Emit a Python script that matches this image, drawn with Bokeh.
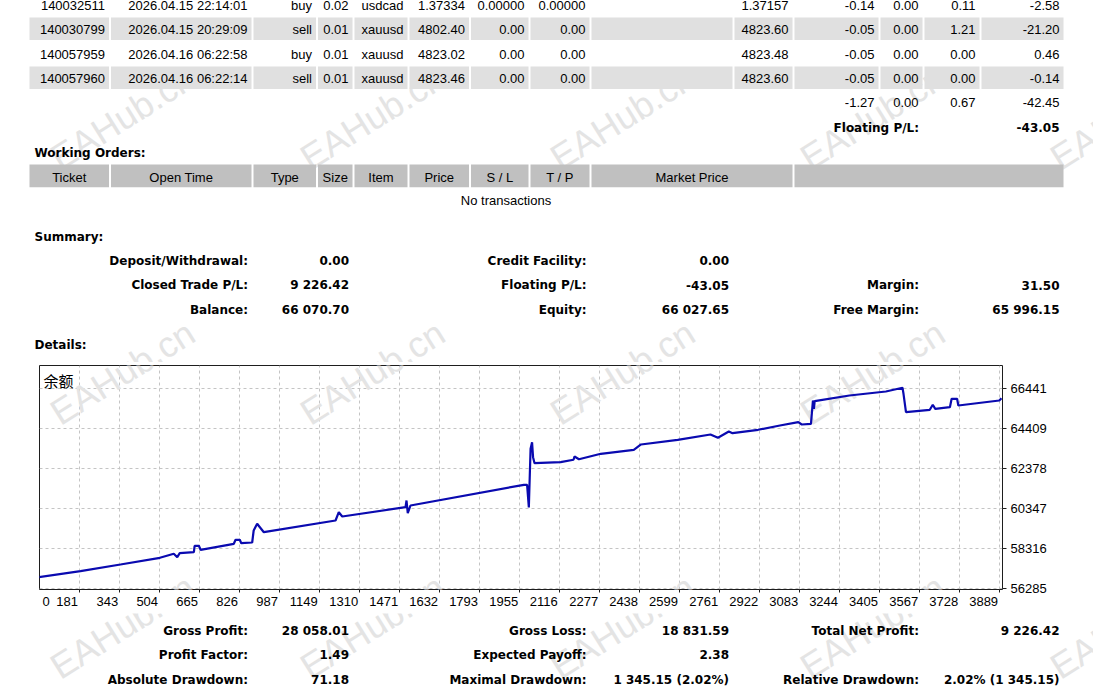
from bokeh.plotting import figure
from bokeh.models import Range1d, FixedTicker, Label, NumeralTickFormatter
from bokeh.layouts import column
from bokeh.embed import file_html
from bokeh.resources import INLINE
from bokeh.core.properties import value

# ---------------- data ----------------
tickets = ["140032511", "140030799", "140057959", "140057960"]
open_times = ["2026.04.15 22:14:01", "2026.04.15 20:29:09", "2026.04.16 06:22:58", "2026.04.16 06:22:14"]
types = ["buy", "sell", "buy", "sell"]
sizes = ["0.02", "0.01", "0.01", "0.01"]
items = ["usdcad", "xauusd", "xauusd", "xauusd"]
prices = ["1.37334", "4802.40", "4823.02", "4823.46"]
stop_losses = ["0.00000", "0.00", "0.00", "0.00"]
take_profits = ["0.00000", "0.00", "0.00", "0.00"]
blanks = ["", "", "", ""]
market_prices = ["1.37157", "4823.60", "4823.48", "4823.60"]
commissions = ["-0.14", "-0.05", "-0.05", "-0.05"]
taxes = ["0.00", "0.00", "0.00", "0.00"]
swaps = ["0.11", "1.21", "0.00", "0.00"]
profits = ["-2.58", "-21.20", "0.46", "-0.14"]
totals = ["-1.27", "0.00", "0.67", "-42.45"]
floating_pl = "-43.05"

wo_headers = ["Ticket", "Open Time", "Type", "Size", "Item", "Price", "S / L", "T / P", "Market Price", ""]

summary_labels = [["Deposit/Withdrawal:", "Credit Facility:", ""],
                  ["Closed Trade P/L:", "Floating P/L:", "Margin:"],
                  ["Balance:", "Equity:", "Free Margin:"]]
summary_values = [["0.00", "0.00", ""],
                  ["9 226.42", "-43.05", "31.50"],
                  ["66 070.70", "66 027.65", "65 996.15"]]

stats_labels = [["Gross Profit:", "Gross Loss:", "Total Net Profit:"],
                ["Profit Factor:", "Expected Payoff:", ""],
                ["Absolute Drawdown:", "Maximal Drawdown:", "Relative Drawdown:"]]
stats_values = [["28 058.01", "18 831.59", "9 226.42"],
                ["1.49", "2.38", ""],
                ["71.18", "1 345.15 (2.02%)", "2.02% (1 345.15)"]]

chart_title = "余额"
balance_idx = [0, 185, 346, 505, 561, 575, 585, 642, 645, 662,
               669, 803, 810, 827, 833, 877, 883, 897, 908, 924,
               1213, 1226, 1240, 1495, 1499, 1504, 1515, 1972, 1985, 1992,
               1999, 2005, 2009, 2015, 2120, 2172, 2176, 2194, 2282, 2415,
               2444, 2592, 2724, 2754, 2798, 2813, 2916, 3004, 3078, 3092,
               3129, 3137, 3141, 3144, 3284, 3431, 3498, 3502, 3512, 3608,
               3620, 3630, 3689, 3696, 3718, 3723, 3888, 3897]
balance = [56844, 57179, 57519, 57859, 58062, 57890, 58093, 58143, 58469, 58469,
           58265, 58570, 58773, 58773, 58601, 58636, 59245, 59586, 59413, 59159,
           59753, 60175, 59956, 60429, 60769, 60124, 60515, 61566, 61566, 60413,
           63394, 63729, 62968, 62663, 62714, 62836, 63003, 62866, 63140, 63343,
           63613, 63851, 64120, 63953, 64273, 64186, 64359, 64577, 64745, 64628,
           64664, 65847, 65425, 65811, 66101, 66304, 66492, 66187, 65253, 65375,
           65629, 65425, 65507, 65933, 65933, 65593, 65847, 65964]
x_ticks = [181, 343, 504, 665, 826, 987, 1149, 1310, 1471, 1632, 1793, 1955,
           2116, 2277, 2438, 2599, 2761, 2922, 3083, 3244, 3405, 3567, 3728, 3889]
y_ticks = [56285, 58316, 60347, 62378, 64409, 66441]

watermark = "EAHub.cn"

# ---------------- styling / layout ----------------
W = 1093
REG = value("Liberation Sans")
BOLD = value("DejaVu Sans")
WM_COLS = [122, 372, 622, 872, 1122]
WM_ROWS = [117, 372, 626]
WM_HALF = 58
WM_ANGLE = 0.56
WM_COLOR = "#e4e4e4"
WM_SIZE = "36px"

TOP_H = 362
CH_TOP, CH_FRAME_H, CH_BOTTOM = 3, 224, 24
CH_LEFT, CH_FRAME_W = 39, 963
CH_H = CH_TOP + CH_FRAME_H + CH_BOTTOM
BOT_TOP = TOP_H + CH_H
BOT_H = 691 - BOT_TOP

X0, X1 = 19.8, 3901.0
Y0, Y1 = 56249.0, 67624.0


def make_fig(**kw):
    try:
        return figure(frame_align=False, **kw)
    except Exception:
        return figure(**kw)


def wm_rows_in(top, h):
    return [y for y in WM_ROWS if y + WM_HALF > top and y - WM_HALF < top + h]


def page_fig(top, h):
    p = make_fig(width=W, height=h, x_range=Range1d(0, W), y_range=Range1d(top + h, top),
                 toolbar_location=None, output_backend="svg", min_border=0,
                 x_axis_location=None, y_axis_location=None)
    p.outline_line_color = None
    p.grid.visible = False
    p.background_fill_color = "white"
    p.border_fill_color = "white"
    rows = wm_rows_in(top, h)
    wx = [x for y in rows for x in WM_COLS]
    wy = [y for y in rows for x in WM_COLS]
    p.text(x=wx, y=wy, text=[watermark] * len(wx), angle=WM_ANGLE, text_align="center",
           text_baseline="middle", text_font=REG, text_font_size=WM_SIZE, text_color=WM_COLOR)
    return p


def put(p, xs, ys, texts, align, bold=False):
    p.text(x=xs, y=ys, text=texts, text_align=align, text_baseline="middle",
           text_font=BOLD if bold else REG, text_font_size="12px" if bold else "13px",
           text_font_style="bold" if bold else "normal", text_color="black")


# ---------------- top part ----------------
top = page_fig(0, TOP_H)

ot_seps = [109.5, 252, 316.5, 353, 408, 469.5, 529, 590, 733, 793, 879, 923, 980]
ot_left = [29] + [s + 1 for s in ot_seps]
ot_right = [s - 1 for s in ot_seps] + [1063]
row_c = [4, 28.3, 52.8, 77.3]
for r in (1, 3):
    top.quad(left=ot_left, right=ot_right, top=[row_c[r] - 11.2] * len(ot_left),
             bottom=[row_c[r] + 11.2] * len(ot_left), fill_color="#e0e0e0", line_color=None)

cols = [tickets, open_times, types, sizes, items, prices, stop_losses, take_profits, blanks,
        market_prices, commissions, taxes, swaps, profits]
for ci, col in enumerate(cols):
    put(top, [ot_right[ci] - 4] * 4, [c + 1 for c in row_c], col, "right")
put(top, [ot_right[ci] - 4 for ci in (10, 11, 12, 13)], [101.7] * 4, totals, "right")
put(top, [918.5], [127.3], ["Floating P/L:"], "right", bold=True)
put(top, [1059], [127.3], [floating_pl], "right", bold=True)

put(top, [34], [152], ["Working Orders:"], "left", bold=True)
wo_seps = [109.5, 252, 316.5, 353, 408, 469.5, 529, 590, 793]
wo_left = [29] + [s + 1 for s in wo_seps]
wo_right = [s - 1 for s in wo_seps] + [1063]
top.quad(left=wo_left, right=wo_right, top=[164] * len(wo_left), bottom=[186.7] * len(wo_left),
         fill_color="#c0c0c0", line_color=None)
put(top, [(a + b) / 2 for a, b in zip(wo_left, wo_right)], [176.5] * len(wo_left), wo_headers, "center")
put(top, [505.5], [200], ["No transactions"], "center")

put(top, [34], [236], ["Summary:"], "left", bold=True)
LAB_X = [247.5, 586, 918.5]
VAL_X = [348.5, 728.5, 1059]
for ri, yy in enumerate([260.3, 284.7, 309.7]):
    put(top, LAB_X, [yy] * 3, summary_labels[ri], "right", bold=True)
    put(top, VAL_X, [yy] * 3, summary_values[ri], "right", bold=True)
put(top, [34], [344], ["Details:"], "left", bold=True)

# ---------------- chart ----------------
ch = make_fig(width=W, height=CH_H, x_range=Range1d(X0, X1), y_range=Range1d(Y0, Y1),
              toolbar_location=None, output_backend="svg",
              min_border_left=CH_LEFT, min_border_right=W - CH_LEFT - CH_FRAME_W,
              min_border_top=CH_TOP, min_border_bottom=CH_BOTTOM,
              x_axis_location="below", y_axis_location="right")
ch.background_fill_color = "white"
ch.border_fill_color = "white"
ch.outline_line_color = "#1e1e1e"
ch.outline_line_width = 1

upx = (X1 - X0) / CH_FRAME_W
upy = (Y1 - Y0) / CH_FRAME_H
ch_rows = wm_rows_in(TOP_H + CH_TOP, CH_FRAME_H)
wx = [X0 + (x - CH_LEFT) * upx for y in ch_rows for x in WM_COLS]
wy = [Y1 - (y - TOP_H - CH_TOP) * upy for y in ch_rows for x in WM_COLS]
ch.text(x=wx, y=wy, text=[watermark] * len(wx), angle=WM_ANGLE, text_align="center",
        text_baseline="middle", text_font=REG, text_font_size=WM_SIZE, text_color=WM_COLOR)

ch.line(balance_idx, balance, line_color="#0a0ab0", line_width=2.2)

CHAR_W = 7.23
x_labels = ["0"] + [str(t) for t in x_ticks]
label_pos = [round(X0 + (3 + CHAR_W / 2) * upx)] + \
            [round(t - (1.5 + CHAR_W * len(str(t)) / 2) * upx) for t in x_ticks]
xa = ch.xaxis[0]
xa.ticker = FixedTicker(ticks=label_pos, minor_ticks=x_ticks)
xa.major_label_overrides = {pos: lab for pos, lab in zip(label_pos, x_labels)}
xa.major_tick_line_color = None
xa.major_tick_out = 0
xa.major_tick_in = 0
xa.minor_tick_out = 3
xa.minor_tick_in = 0
xa.minor_tick_line_color = "#1e1e1e"
xa.axis_line_color = None
xa.major_label_standoff = 4
xa.major_label_text_font = "Liberation Sans"
xa.major_label_text_font_size = "13px"
xa.major_label_text_color = "black"

ya = ch.yaxis[0]
ya.ticker = FixedTicker(ticks=y_ticks, minor_ticks=[])
ya.formatter = NumeralTickFormatter(format="0")
ya.major_tick_out = 4
ya.major_tick_in = 0
ya.major_tick_line_color = "#1e1e1e"
ya.axis_line_color = None
ya.major_label_standoff = 4
ya.major_label_text_font = "Liberation Sans"
ya.major_label_text_font_size = "13px"
ya.major_label_text_color = "black"

ch.xgrid[0].ticker = FixedTicker(ticks=x_ticks)
ch.ygrid[0].ticker = FixedTicker(ticks=y_ticks)
ch.grid.grid_line_color = "#c4c4c4"
ch.grid.grid_line_dash = "3 3"
ch.grid.grid_line_width = 1

ch.add_layout(Label(x=X0, y=Y1, x_offset=4, y_offset=-15, text=chart_title,
                    text_baseline="middle", text_font="Noto Sans CJK SC",
                    text_font_size="15px", text_color="black"))

# ---------------- bottom part ----------------
bot = page_fig(BOT_TOP, BOT_H)
for ri, yy in enumerate([630.7, 654.3, 679.3]):
    put(bot, LAB_X, [yy] * 3, stats_labels[ri], "right", bold=True)
    put(bot, VAL_X, [yy] * 3, stats_values[ri], "right", bold=True)

page = column(top, ch, bot, spacing=0)
open("out.html", "w").write(file_html(page, INLINE))
